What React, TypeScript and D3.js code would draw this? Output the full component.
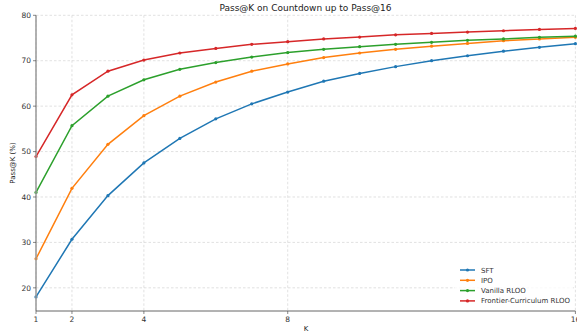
import React, { useRef, useEffect } from "react";
import * as d3 from "d3";

const ks = d3.range(1, 17);
const sft = [18.0, 30.7, 40.3, 47.5, 52.9, 57.2, 60.5, 63.1, 65.5, 67.2, 68.7, 70.0, 71.1, 72.1, 72.95, 73.75];
const ipo = [26.4, 41.9, 51.6, 57.9, 62.2, 65.3, 67.7, 69.3, 70.7, 71.7, 72.5, 73.2, 73.8, 74.4, 74.8, 75.15];
const vanilla = [41.0, 55.7, 62.2, 65.8, 68.1, 69.6, 70.8, 71.8, 72.5, 73.1, 73.6, 74.05, 74.5, 74.8, 75.15, 75.4];
const frontier = [48.9, 62.5, 67.7, 70.15, 71.7, 72.7, 73.6, 74.2, 74.8, 75.2, 75.7, 76.0, 76.3, 76.6, 76.9, 77.1];
const seriesNames = ["SFT", "IPO", "Vanilla RLOO", "Frontier-Curriculum RLOO"];
const colors = ["#1f77b4", "#ff7f0e", "#2ca02c", "#d62728"];
const xTicks = [1, 2, 4, 8, 16];
const yTicks = [20, 30, 40, 50, 60, 70, 80];

const App = () => {
    const svgRef = useRef(null);

    useEffect(() => {
        const svg = d3.select(svgRef.current);
        svg.selectAll("*").remove();
        const font = "DejaVu Sans, sans-serif";

        const x = d3.scaleLinear().domain([1, 16]).range([36, 575.4]);
        const y = d3.scaleLinear().domain([14.9, 80]).range([311, 15.3]);

        // grid
        const g = svg.append("g");
        g.selectAll("line.vg")
            .data(xTicks)
            .enter()
            .append("line")
            .attr("x1", (d) => x(d))
            .attr("x2", (d) => x(d))
            .attr("y1", y(80))
            .attr("y2", y(14.9))
            .attr("stroke", "#cccccc")
            .attr("stroke-width", 0.6)
            .attr("stroke-dasharray", "2.5,2");
        g.selectAll("line.hg")
            .data(yTicks)
            .enter()
            .append("line")
            .attr("x1", x(1))
            .attr("x2", x(16))
            .attr("y1", (d) => y(d))
            .attr("y2", (d) => y(d))
            .attr("stroke", "#cccccc")
            .attr("stroke-width", 0.6)
            .attr("stroke-dasharray", "2.5,2");

        // lines
        const all = [sft, ipo, vanilla, frontier];
        const line = d3
            .line<number>()
            .x((d, i) => x(ks[i]))
            .y((d) => y(d));
        all.forEach((s, si) => {
            g.append("path")
                .attr("d", line(s))
                .attr("fill", "none")
                .attr("stroke", colors[si])
                .attr("stroke-width", 1.5);
            g.selectAll("circle.s" + si)
                .data(s)
                .enter()
                .append("circle")
                .attr("cx", (d, i) => x(ks[i]))
                .attr("cy", (d) => y(d))
                .attr("r", 1.6)
                .attr("fill", colors[si]);
        });

        // spines
        g.append("line")
            .attr("x1", x(1)).attr("x2", x(1))
            .attr("y1", y(80)).attr("y2", y(14.9))
            .attr("stroke", "#999999").attr("stroke-width", 1.5);
        g.append("line")
            .attr("x1", x(1)).attr("x2", x(16))
            .attr("y1", y(14.9)).attr("y2", y(14.9))
            .attr("stroke", "#555555").attr("stroke-width", 0.9);

        // ticks
        xTicks.forEach((t) => {
            g.append("line")
                .attr("x1", x(t)).attr("x2", x(t))
                .attr("y1", 311).attr("y2", 314)
                .attr("stroke", "#555555").attr("stroke-width", 0.7);
            g.append("text")
                .attr("x", x(t)).attr("y", 322)
                .attr("text-anchor", "middle")
                .attr("font-family", font).attr("font-size", 7.5)
                .attr("fill", "#333333")
                .text(t);
        });
        yTicks.forEach((t) => {
            g.append("line")
                .attr("x1", 33).attr("x2", 36)
                .attr("y1", y(t)).attr("y2", y(t))
                .attr("stroke", "#555555").attr("stroke-width", 0.7);
            g.append("text")
                .attr("x", 31).attr("y", y(t) + 2.7)
                .attr("text-anchor", "end")
                .attr("font-family", font).attr("font-size", 7.5)
                .attr("fill", "#333333")
                .text(t);
        });

        // labels
        svg.append("text")
            .attr("x", 305.5).attr("y", 11)
            .attr("text-anchor", "middle")
            .attr("font-family", font).attr("font-size", 9)
            .attr("fill", "#222222")
            .text("Pass@K on Countdown up to Pass@16");
        svg.append("text")
            .attr("x", 306).attr("y", 331)
            .attr("text-anchor", "middle")
            .attr("font-family", font).attr("font-size", 7)
            .attr("fill", "#222222")
            .text("K");
        svg.append("text")
            .attr("transform", "translate(15,163) rotate(-90)")
            .attr("text-anchor", "middle")
            .attr("font-family", font).attr("font-size", 7)
            .attr("fill", "#222222")
            .text("Pass@K (%)");

        // legend
        const lg = svg.append("g");
        lg.append("rect")
            .attr("x", 455).attr("y", 263)
            .attr("width", 118).attr("height", 44)
            .attr("fill", "white").attr("opacity", 0.8);
        seriesNames.forEach((n, i) => {
            const ly = 270 + i * 10.3;
            lg.append("line")
                .attr("x1", 460).attr("x2", 475)
                .attr("y1", ly).attr("y2", ly)
                .attr("stroke", colors[i]).attr("stroke-width", 1.5);
            lg.append("circle")
                .attr("cx", 467.5).attr("cy", ly).attr("r", 1.6)
                .attr("fill", colors[i]);
            lg.append("text")
                .attr("x", 481).attr("y", ly + 2.5)
                .attr("font-family", font).attr("font-size", 7)
                .attr("fill", "#333333")
                .text(n);
        });
    }, []);

    return (
        <svg
            ref={svgRef}
            width={577}
            height={333}
            style={{ position: "absolute", left: 0, top: 0, background: "white" }}
        />
    );
};

export default App;
